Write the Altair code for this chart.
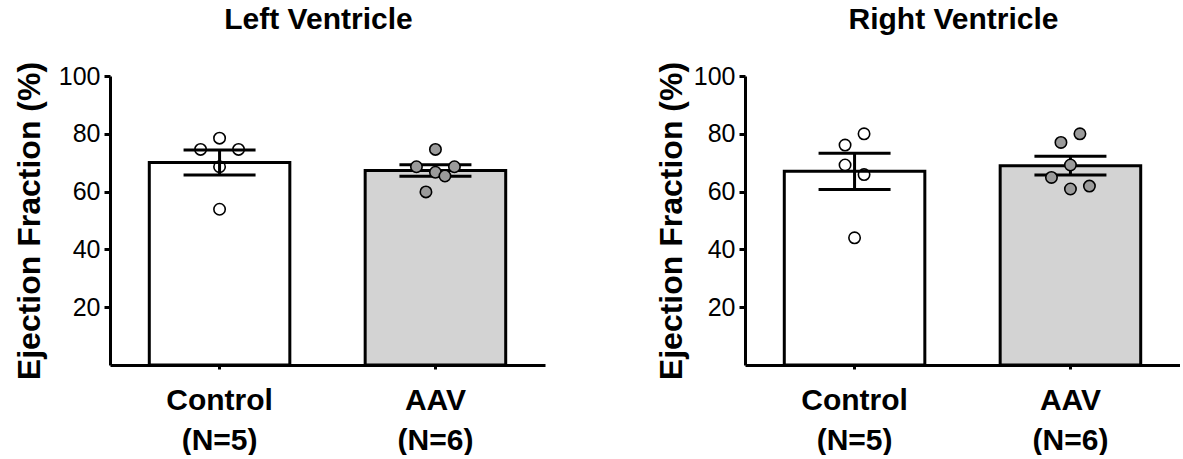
import altair as alt
import pandas as pd

# ---- data ----
groups = ["Control", "AAV"]
n_labels = ["(N=5)", "(N=6)"]
panel_titles = ["Left Ventricle", "Right Ventricle"]
y_title = "Ejection Fraction (%)"
y_ticks = [20, 40, 60, 80, 100]

lv_control = [78.5, 74.6, 74.6, 68.6, 53.9]
lv_control_jitter = [0, -1, 1, 0, 0]
lv_aav = [74.6, 68.6, 68.6, 66.7, 65.4, 59.9]
lv_aav_jitter = [0, -1, 1, 0, 0.5, -0.5]

rv_control = [80.0, 76.1, 69.2, 65.9, 44.0]
rv_control_jitter = [0.5, -0.5, -0.5, 0.5, 0]
rv_aav = [80.0, 77.0, 69.2, 64.9, 61.9, 60.9]
rv_aav_jitter = [0.5, -0.5, 0, -1, 1, 0]

bar_fill = ["white", "#d3d3d3"]
point_fill = ["transparent", "#9b9b9b"]

FONT = "Liberation Sans"


def make_df(ctrl, ctrl_j, aav, aav_j):
    rows = []
    for v, j in zip(ctrl, ctrl_j):
        rows.append({"group": groups[0], "value": v, "jitter": j})
    for v, j in zip(aav, aav_j):
        rows.append({"group": groups[1], "value": v, "jitter": j})
    return pd.DataFrame(rows)


label_expr = (
    f"datum.value == '{groups[0]}' ? ['{groups[0]}', '{n_labels[0]}'] : "
    f"['{groups[1]}', '{n_labels[1]}']"
)


def panel(df, title, title_padding):
    x_axis = alt.Axis(
        title=None, labelExpr=label_expr, labelAngle=0, labelFont=FONT,
        labelFontSize=30, labelFontWeight="bold", labelColor="black",
        labelLineHeight=40, labelPadding=16, labelBaseline="top",
        tickSize=4, tickWidth=3, tickColor="black",
        domainWidth=3, domainColor="black",
    )
    x_scale = alt.Scale(domain=groups, paddingInner=0.349, paddingOuter=0.182)
    x = alt.X("group:N", scale=x_scale, axis=x_axis, sort=groups)

    y_axis = alt.Axis(
        values=y_ticks, title=y_title, titleFont=FONT, titleFontSize=32,
        titleFontWeight="bold", titleColor="black", titlePadding=title_padding,
        labelFont=FONT, labelFontSize=25, labelColor="black", labelPadding=4,
        tickSize=6, tickWidth=3, tickColor="black",
        domainWidth=3, domainColor="black", grid=False,
    )
    y_scale = alt.Scale(domain=[0, 100], nice=False, zero=True)

    base = alt.Chart(df)

    bars = base.mark_bar(stroke="black", strokeWidth=3, opacity=1).encode(
        x=x,
        y=alt.Y("mean(value):Q", scale=y_scale, axis=y_axis),
        fill=alt.Fill("group:N", scale=alt.Scale(domain=groups, range=bar_fill), legend=None),
    )

    agg = base.transform_aggregate(
        m="mean(value)", se="stderr(value)", groupby=["group"]
    ).transform_calculate(lo="datum.m - datum.se", hi="datum.m + datum.se")

    rule = agg.mark_rule(color="black", strokeWidth=3, opacity=1).encode(
        x=x,
        y=alt.Y("lo:Q", scale=y_scale, axis=y_axis),
        y2="hi:Q",
    )
    caps = agg.transform_fold(["lo", "hi"], as_=["k", "v"]).mark_tick(
        color="black", size=72, thickness=3, opacity=1
    ).encode(
        x=x,
        y=alt.Y("v:Q", scale=y_scale, axis=y_axis),
    )

    points = base.mark_circle(size=130, stroke="black", strokeWidth=1.6, opacity=1).encode(
        x=x,
        xOffset=alt.XOffset("jitter:Q", scale=alt.Scale(domain=[-3.7, 3.7])),
        y=alt.Y("value:Q", scale=y_scale, axis=y_axis),
        fill=alt.Fill("group:N", scale=alt.Scale(domain=groups, range=point_fill), legend=None),
    )

    return alt.layer(bars, rule, caps, points).resolve_scale(
        fill="independent", xOffset="independent"
    ).properties(
        width=435, height=289,
        title=alt.TitleParams(
            text=title, font=FONT, fontSize=30, fontWeight="bold", color="black",
            anchor="middle", baseline="alphabetic", offset=2, dx=-9,
        ),
    )


left = panel(make_df(lv_control, lv_control_jitter, lv_aav, lv_aav_jitter), panel_titles[0], 12)
right = panel(make_df(rv_control, rv_control_jitter, rv_aav, rv_aav_jitter), panel_titles[1], 5)

chart = alt.hconcat(left, right, spacing=110).properties(
    padding={"left": 13, "top": 5, "right": 0, "bottom": 0},
    background="white",
).configure_view(stroke=None)

chart.save("out.html", embed_options={"renderer": "svg", "actions": False})
